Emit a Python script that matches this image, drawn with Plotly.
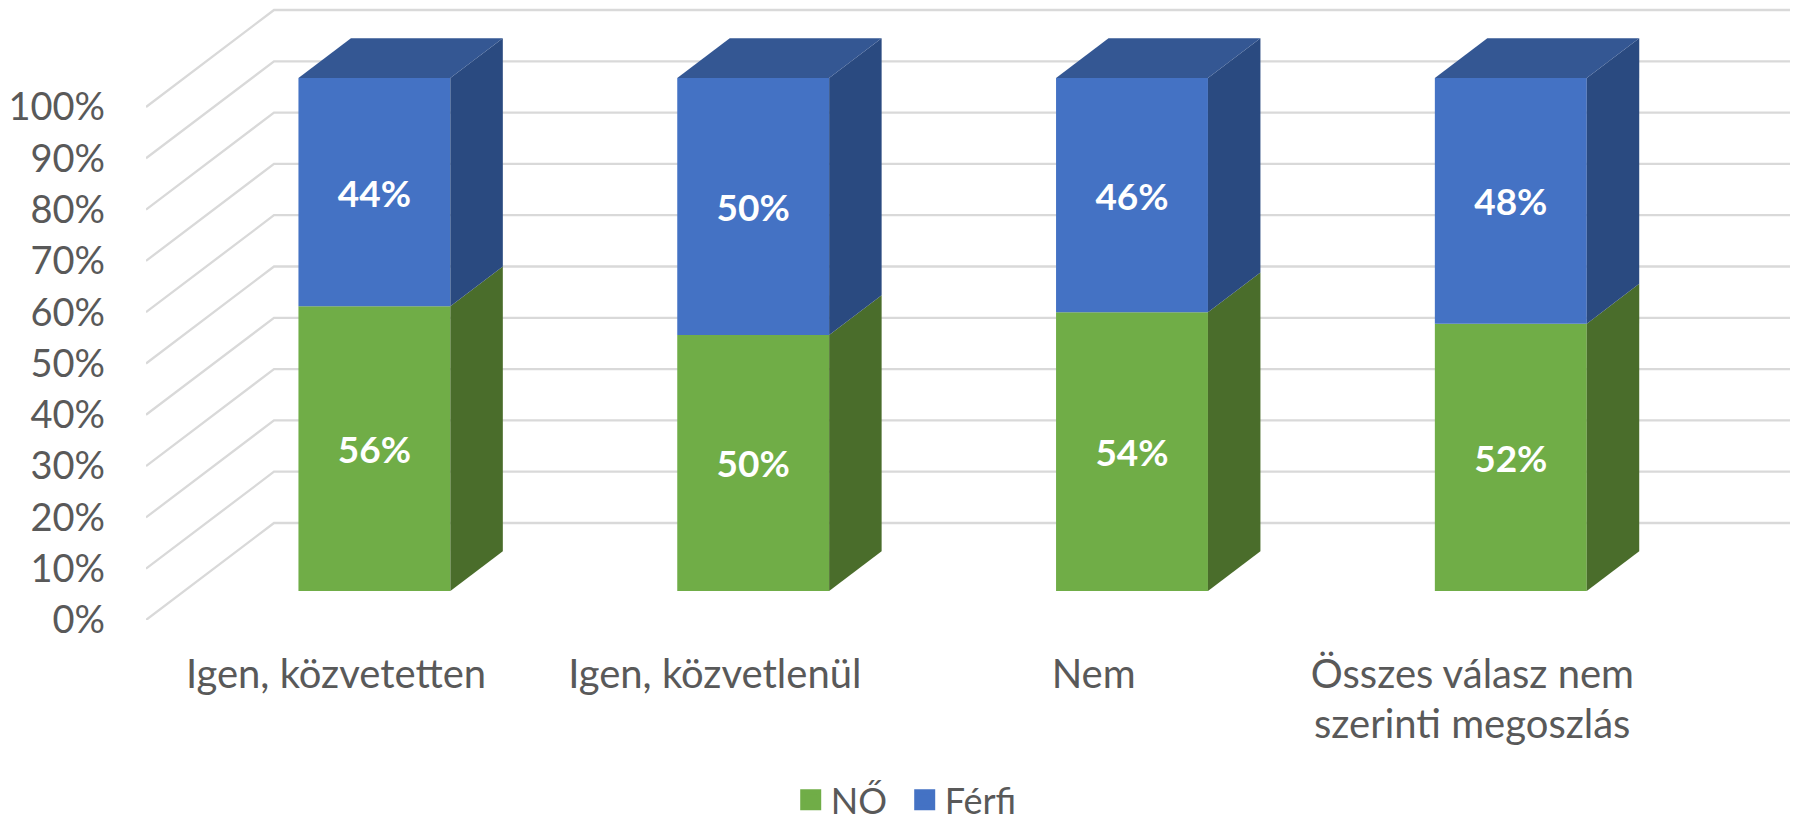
import plotly.graph_objects as go

categories = ["Igen, közvetetten", "Igen, közvetlenül", "Nem", "Összes válasz nem"]
category_second_line = "szerinti megoszlás"
no_values = [55.5, 49.9, 54.3, 52.1]
ferfi_values = [44.5, 50.1, 45.7, 47.9]
no_labels = ["56%", "50%", "54%", "52%"]
ferfi_labels = ["44%", "50%", "46%", "48%"]
y_ticks = [0, 10, 20, 30, 40, 50, 60, 70, 80, 90, 100]

W, H = 1793, 822
PX_X, PX_Y = 378.8, 5.13
L, R, T, B = 146, 0, 5, 202
x_lo = -(336 - L) / PX_X
x_hi = x_lo + (W - L - R) / PX_X
y_hi = (H - B - T) / PX_Y
DX, DV = 128 / PX_X, 97 / PX_Y
T0, T1 = 0.30, 0.71
BAR_W = 0.401
X_END = x_lo + (1790 - L) / PX_X

GREEN, GREEN_SIDE = "#70AD47", "#4A6D2B"
BLUE, BLUE_SIDE, BLUE_TOP = "#4472C4", "#2A4A80", "#345793"
TEXT = "#595959"
FONT = "Lato"
Y_SIZE = 38
X_SIZE = 40
LEGEND_SIZE = 36
LABEL_SIZE = 37

fig = go.Figure()
xpos = [i + DX * T0 for i in range(len(categories))]
base = DV * T0
tops_no = [base + v for v in no_values]

fig.add_trace(go.Bar(x=xpos, y=no_values, base=base, width=BAR_W, marker_color=GREEN, marker_line_width=0,
                     text=no_labels, textposition="inside", insidetextanchor="middle", textangle=0,
                     textfont=dict(color="white", size=LABEL_SIZE, family=FONT, weight="bold"),
                     name="NŐ", showlegend=False, hoverinfo="skip"))
fig.add_trace(go.Bar(x=xpos, y=ferfi_values, base=tops_no, width=BAR_W, marker_color=BLUE, marker_line_width=0,
                     text=ferfi_labels, textposition="inside", insidetextanchor="middle", textangle=0,
                     textfont=dict(color="white", size=LABEL_SIZE, family=FONT, weight="bold"),
                     name="Férfi", showlegend=False, hoverinfo="skip"))


def face(xs, ys, color):
    fig.add_trace(go.Scatter(x=xs, y=ys, mode="lines", fill="toself", fillcolor=color,
                             line=dict(width=0, color=color), showlegend=False, hoverinfo="skip"))


ddx, ddv = DX * (T1 - T0), DV * (T1 - T0)
for cx, nv, fv in zip(xpos, no_values, ferfi_values):
    xl, xr = cx - BAR_W / 2, cx + BAR_W / 2
    y0, y1, y2 = base, base + nv, base + nv + fv
    face([xr, xr + ddx, xr + ddx, xr, xr], [y0, y0 + ddv, y1 + ddv, y1, y0], GREEN_SIDE)
    face([xr, xr + ddx, xr + ddx, xr, xr], [y1, y1 + ddv, y2 + ddv, y2, y1], BLUE_SIDE)
    face([xl, xl + ddx, xr + ddx, xr, xl], [y2, y2 + ddv, y2 + ddv, y2, y2], BLUE_TOP)

# legend keys
for name, color in (("NŐ", GREEN), ("Férfi", BLUE)):
    fig.add_trace(go.Scatter(x=[None], y=[None], mode="markers", name=name,
                             marker=dict(symbol="square", size=16, color=color, line=dict(width=5, color=color))))

# oblique side wall and back wall gridlines
for v in y_ticks:
    fig.add_shape(type="path", layer="below", xref="x", yref="y",
                  path=f"M {x_lo} {v} L {x_lo + DX} {v + DV} L {X_END} {v + DV}",
                  line=dict(color="#D9D9D9", width=2.3))

fig.add_annotation(x=3, xref="x", y=0, yref="y", yshift=-103, text=category_second_line, showarrow=False,
                   font=dict(family=FONT, size=X_SIZE, color=TEXT), xanchor="center", yanchor="middle")

fig.update_layout(
    width=W, height=H, margin=dict(l=L, r=R, t=T, b=B, autoexpand=False),
    paper_bgcolor="white", plot_bgcolor="white", barmode="overlay",
    font=dict(family=FONT, size=Y_SIZE, color=TEXT),
    xaxis=dict(range=[x_lo, x_hi], tickmode="array", tickvals=list(range(len(categories))), ticktext=categories,
               showgrid=False, zeroline=False, showline=False, ticks="", ticklabelstandoff=27, tickangle=0,
               tickfont=dict(family=FONT, size=X_SIZE, color=TEXT)),
    yaxis=dict(range=[0, y_hi], tickmode="array", tickvals=y_ticks, ticktext=[f"{v}%" for v in y_ticks],
               showgrid=False, zeroline=False, showline=False, ticks="", ticklabelstandoff=40,
               tickfont=dict(family=FONT, size=Y_SIZE, color=TEXT)),
    legend=dict(orientation="h", xref="container", yref="container", x=0.441, y=0.027, xanchor="left", yanchor="middle",
                entrywidth=69, entrywidthmode="pixels",
                font=dict(family=FONT, size=LEGEND_SIZE, color=TEXT), itemclick=False, itemdoubleclick=False,
                bgcolor="rgba(0,0,0,0)"),
    hovermode=False,
)

fig.write_html("out.html", config={"displayModeBar": False},
               post_script="document.body.style.margin='0';document.body.style.overflow='hidden';")
